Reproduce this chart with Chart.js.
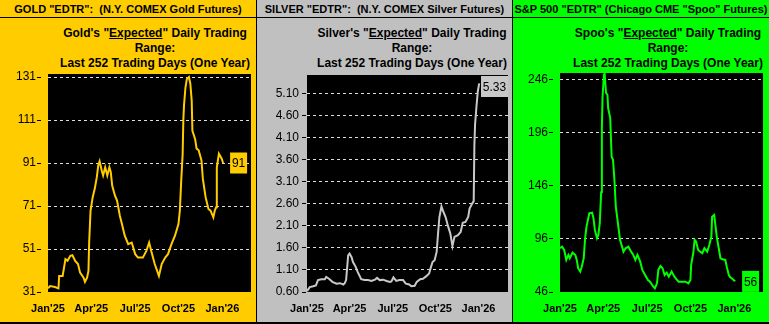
<!DOCTYPE html>
<html>
<head>
<meta charset="utf-8">
<script src="https://cdn.jsdelivr.net/npm/chart.js@4.4.1/dist/chart.umd.min.js"></script>
<style>
  html, body { margin: 0; padding: 0; background: #000; }
  #wrap { position: relative; width: 769px; height: 324px; overflow: hidden; background: #000; }
  .panel { position: absolute; top: 0; height: 322px; overflow: hidden; font-family: "Liberation Sans", Arial, sans-serif; color: #000; }
  .hdr { position: absolute; left: 0; right: 0; top: 0; height: 17px; line-height: 19px; border-bottom: 1px solid #000;
         font-size: 11px; font-weight: bold; text-align: center; white-space: pre; overflow: hidden; }
  .ttl { position: absolute; top: 26px; left: 55px; width: 200px; text-align: center;
         font-size: 12px; font-weight: bold; line-height: 15px; white-space: nowrap; }
  .panel canvas { position: absolute; left: 0; top: 60px; }
</style>
</head>
<body>
<div id="wrap">
  <div class="panel" style="left:0;width:256px;background:#ffcc00">
    <div class="hdr">GOLD "EDTR":  (N.Y. COMEX Gold Futures)</div>
    <div class="ttl">Gold's "<u>Expected</u>" Daily Trading<br>Range:<br>Last 252 Trading Days (One Year)</div>
    <canvas id="chart-gold" width="256" height="262"></canvas>
  </div>
  <div class="panel" style="left:257px;width:255px;background:#c0c0c0">
    <div class="hdr">SILVER "EDTR":  (N.Y. COMEX Silver Futures)</div>
    <div class="ttl">Silver's "<u>Expected</u>" Daily Trading<br>Range:<br>Last 252 Trading Days (One Year)</div>
    <canvas id="chart-silver" width="255" height="262"></canvas>
  </div>
  <div class="panel" style="left:513px;width:256px;background:#00ff00">
    <div class="hdr">S&amp;P 500 "EDTR" (Chicago CME "Spoo" Futures)</div>
    <div class="ttl">Spoo's "<u>Expected</u>" Daily Trading<br>Range:<br>Last 252 Trading Days (One Year)</div>
    <canvas id="chart-spoo" width="256" height="262"></canvas>
  </div>
</div>
<script>
// x positions are trading days (0 = first day of the 252-day window)
var xTickDays = [0, 62, 125, 187, 250];
var xTickLabels = ["Jan'25", "Apr'25", "Jul'25", "Oct'25", "Jan'26"];

var goldYTicks = [31, 51, 71, 91, 111, 131];
var goldDays = [0, 3, 10, 15, 16, 21, 25, 28, 32, 35, 39, 43, 46, 51, 53, 56, 58, 59, 61, 64,
  67, 70, 72, 74, 77, 79, 82, 85, 88, 90, 92, 96, 99, 103, 106, 110, 115, 120, 125, 129,
  136, 141, 145, 148, 153, 159, 163, 168, 172, 177, 182, 187, 189, 191, 193, 194, 195, 197, 199, 202,
  204, 206, 207, 209, 211, 213, 216, 220, 222, 226, 230, 233, 236, 237, 239, 241, 242, 245, 249, 251];
var goldVals = [32.7, 33.8, 33.3, 32.7, 38.5, 38.5, 46.3, 45.5, 47.8, 48.1, 45.5, 44, 40, 37.7, 35.7, 37.7, 40.8, 54, 68.8, 75,
  79, 84.4, 89.8, 91.8, 87.5, 85.2, 89, 85.2, 89, 86.7, 80.5, 75.8, 73.5, 66.5, 62.6, 57.2, 53.3, 54, 48.6, 47,
  47, 50.1, 54, 50.1, 44, 38.5, 44, 47, 48.6, 53.3, 57.2, 62.6, 68.8, 82.9, 95, 111, 118, 126, 130, 131,
  128, 120, 106, 104, 102, 97.7, 96.9, 92.2, 83.6, 75, 69.6, 68.8, 66.5, 65.7, 68.8, 70.4, 89, 95.3, 93, 91];

var silverYTicks = [0.6, 1.1, 1.6, 2.1, 2.6, 3.1, 3.6, 4.1, 4.6, 5.1];
var silverDays = [0, 4, 9, 13, 16, 21, 26, 28, 32, 37, 43, 48, 53, 55, 57, 60, 62, 65, 67, 71,
  74, 79, 84, 89, 94, 99, 102, 106, 111, 116, 121, 123, 126, 130, 135, 140, 144, 149, 152, 157,
  160, 165, 169, 174, 178, 180, 183, 186, 189, 191, 193, 196, 198, 202, 206, 209, 212, 215, 220, 224,
  227, 231, 235, 237, 241, 243, 244, 245, 247, 249, 251];
var silverVals = [0.62, 0.71, 0.73, 0.75, 0.87, 0.89, 0.89, 0.94, 0.90, 0.83, 0.79, 0.80, 0.77, 0.80, 0.87, 1.43, 1.47, 1.39, 1.28, 1.17,
  1.05, 0.89, 0.87, 0.87, 0.85, 0.88, 0.92, 0.87, 0.88, 0.85, 0.83, 0.84, 0.93, 0.85, 0.87, 0.87, 0.79, 0.77, 0.73, 0.74,
  0.83, 0.89, 0.90, 0.96, 1.02, 1.13, 1.28, 1.32, 1.51, 1.92, 2.30, 2.54, 2.45, 2.30, 2.07, 1.92, 1.64, 1.85, 1.89, 1.96,
  2.17, 2.19, 2.30, 2.49, 2.61, 2.66, 3.93, 4.40, 4.80, 5.15, 5.33];

var spooYTicks = [46, 96, 146, 196, 246];
var spooDays = [0, 3, 6, 9, 12, 14, 18, 22, 24, 26, 29, 31, 34, 36, 38, 42, 46, 48, 50, 53,
  55, 57, 59, 60, 61, 63, 64, 66, 68, 69, 72, 74, 76, 78, 80, 83, 86, 89, 91, 94,
  98, 102, 105, 108, 111, 115, 118, 122, 126, 129, 133, 136, 139, 141, 144, 147, 150, 153, 156, 160,
  164, 167, 170, 175, 180, 184, 187, 188, 191, 193, 195, 198, 201, 204, 207, 211, 214, 217, 218, 221,
  223, 225, 228, 230, 233, 237, 239, 242, 244, 246, 250, 251];
var spooVals = [87.2, 88.7, 85.6, 76.2, 80.9, 77.8, 83.1, 80.9, 76.2, 68.4, 65.2, 69.3, 77.8, 96.7, 107.6, 120.2, 120.8, 115.5, 104.5, 96.7,
  99.8, 110.8, 140, 200, 230, 250.7, 251.7, 233.5, 231.8, 219.3, 209.9, 173.6, 170.5, 151.7, 126.5, 110.8, 95.1, 88.7, 84, 87.2,
  88.7, 84, 80.9, 76.2, 80.9, 74.6, 66.8, 62, 57.3, 55.7, 51.7, 49.5, 54.2, 66.8, 70.5, 68.4, 62, 64.2, 60.4, 65.2,
  60.4, 58, 55.7, 55.7, 55.7, 54.2, 57.3, 71.5, 82.5, 95.1, 93.5, 85.6, 84, 82.5, 87.2, 84, 90.3, 98.2, 117, 118.6,
  107.6, 96.7, 85.6, 77.8, 76.8, 76.2, 69.9, 62, 59.9, 58.9, 56.7, 56];

(function () {
  'use strict';

  var FONT = '"Liberation Sans", Arial, sans-serif';

  function toPoints(days, vals) {
    var pts = [];
    for (var i = 0; i < days.length; i++) pts.push({ x: days[i], y: vals[i] });
    return pts;
  }

  // black plot area behind the line
  var plotBg = {
    id: 'plotBg',
    beforeDraw: function (chart) {
      var a = chart.chartArea, ctx = chart.ctx;
      ctx.save();
      ctx.fillStyle = '#000';
      ctx.fillRect(a.left, a.top, a.right - a.left, a.bottom - a.top);
      ctx.restore();
    }
  };

  // little box with the latest value, right of the last point
  var lastValue = {
    id: 'lastValue',
    afterDatasetsDraw: function (chart, args, opts) {
      var meta = chart.getDatasetMeta(0);
      var pt = meta.data[meta.data.length - 1];
      var ds = chart.data.datasets[0].data;
      var v = ds[ds.length - 1].y;
      var txt = v.toFixed(opts.decimals);
      var ctx = chart.ctx, a = chart.chartArea;
      ctx.save();
      ctx.font = '12px ' + FONT;
      var w = Math.round(ctx.measureText(txt).width) + 4;
      var h = 21;
      var x = pt.x + opts.gap;
      if (x + w > a.right) x = a.right - w;
      var y = pt.y - h / 2;
      if (y < a.top + 1) y = a.top + 1;
      if (y + h > a.bottom) y = a.bottom - h;
      ctx.fillStyle = opts.bg;
      ctx.fillRect(x, y, w, h);
      ctx.fillStyle = '#000';
      ctx.textBaseline = 'middle';
      ctx.textAlign = 'center';
      ctx.fillText(txt, x + w / 2, y + h / 2 + 1);
      ctx.restore();
    }
  };

  function makeChart(cfg) {
    var el = document.getElementById(cfg.id);
    if (!el) return;
    new Chart(el, {
      type: 'line',
      data: {
        datasets: [{
          data: toPoints(cfg.days, cfg.vals),
          borderColor: cfg.color,
          borderWidth: 2,
          pointRadius: 0,
          tension: 0,
          fill: false
        }]
      },
      options: {
        responsive: false,
        animation: false,
        events: [],
        layout: { padding: { top: cfg.padTop, right: cfg.padRight, left: 0, bottom: 0 } },
        plugins: {
          legend: { display: false },
          tooltip: { enabled: false },
          lastValue: { bg: cfg.color, decimals: cfg.decimals, gap: 7 }
        },
        scales: {
          x: {
            type: 'linear',
            min: 0,
            max: cfg.xMax,
            grid: { display: false, drawTicks: false },
            border: { display: false },
            afterBuildTicks: function (s) {
              s.ticks = xTickDays.map(function (d) { return { value: d }; });
            },
            afterFit: function (s) { s.height = 30; },
            ticks: {
              autoSkip: false,
              maxRotation: 0,
              padding: 10,
              color: '#000',
              font: { family: FONT, size: 11, weight: 'bold' },
              callback: function (v) {
                var i = xTickDays.indexOf(v);
                return i < 0 ? '' : xTickLabels[i];
              }
            }
          },
          y: {
            min: cfg.yMin,
            max: cfg.yMax,
            afterBuildTicks: function (s) {
              s.ticks = cfg.yTicks.map(function (v) { return { value: v }; });
            },
            afterFit: function (s) { s.width = cfg.yWidth; },
            grid: {
              color: function (c) {
                return c.tick && Math.abs(c.tick.value - cfg.yMin) < 1e-9 ? 'rgba(0,0,0,0)' : '#dcdcdc';
              },
              lineWidth: 1,
              tickLength: cfg.tickLen,
              tickColor: '#000',
              tickBorderDash: cfg.tickDash
            },
            border: { display: false, dash: [3, 3] },
            ticks: {
              padding: cfg.yPad,
              color: '#000',
              font: { family: FONT, size: 12 },
              callback: function (v) { return v.toFixed(cfg.decimals); }
            }
          }
        }
      },
      plugins: [plotBg, lastValue]
    });
  }

  makeChart({
    id: 'chart-gold', days: goldDays, vals: goldVals, color: '#ffcc00',
    yMin: 31, yMax: 132.4, yTicks: goldYTicks, decimals: 0, xMax: 291,
    padTop: 14, padRight: 5, yWidth: 48, tickLen: 11, tickDash: [4, 7], yPad: 1
  });
  makeChart({
    id: 'chart-silver', days: silverDays, vals: silverVals, color: '#c8c8c8',
    yMin: 0.6, yMax: 5.52, yTicks: silverYTicks, decimals: 2, xMax: 293,
    padTop: 15, padRight: 4, yWidth: 50, tickLen: 5, tickDash: [4, 1], yPad: 3
  });
  makeChart({
    id: 'chart-spoo', days: spooDays, vals: spooVals, color: '#00ff00',
    yMin: 46, yMax: 252.3, yTicks: spooYTicks, decimals: 0, xMax: 291,
    padTop: 13, padRight: 6, yWidth: 47, tickLen: 11, tickDash: [4, 7], yPad: 1
  });
})();
</script>
</body>
</html>
